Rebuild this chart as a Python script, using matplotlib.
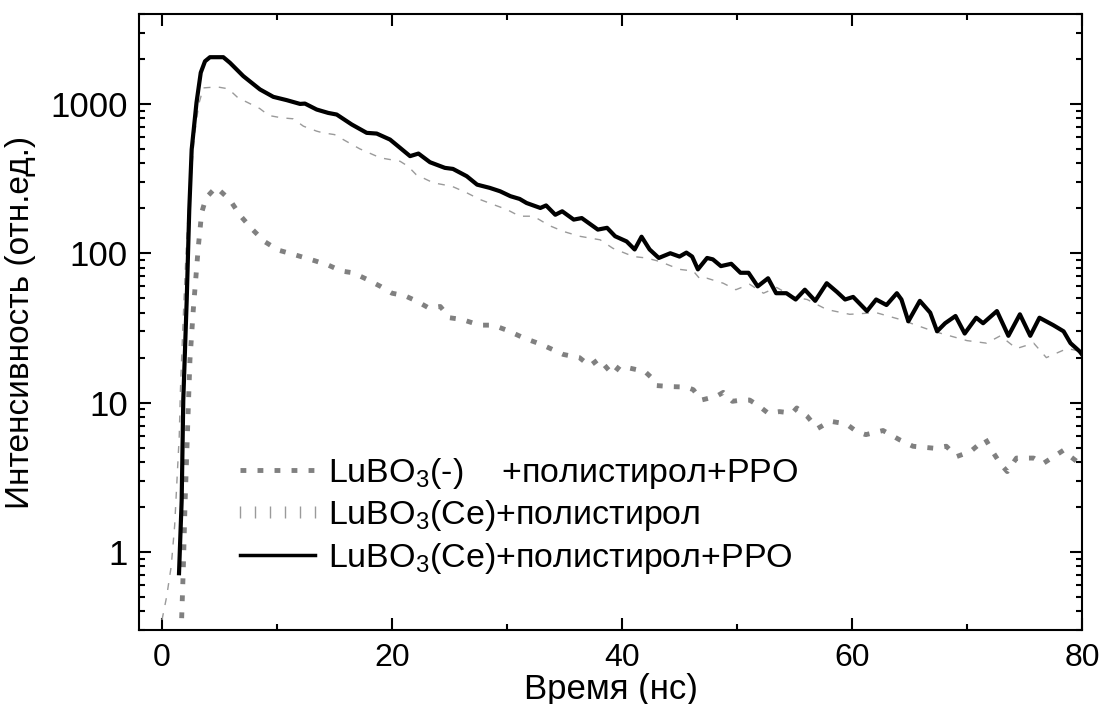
import numpy as np
import matplotlib
matplotlib.use('Agg')
import matplotlib.pyplot as plt
from matplotlib.lines import Line2D
from matplotlib.legend_handler import HandlerLine2D
from matplotlib.ticker import FixedLocator, LogLocator, NullFormatter, FuncFormatter

plt.rcParams['font.family'] = ['Liberation Sans', 'DejaVu Sans']
plt.rcParams['mathtext.fontset'] = 'custom'
plt.rcParams['mathtext.rm'] = 'Liberation Sans'
plt.rcParams['mathtext.it'] = 'Liberation Sans'
plt.rcParams['mathtext.default'] = 'regular'

# LuBO3(Ce)+полистирол+PPO (чёрная)
t_ppo = [1.48, 1.6, 1.71, 1.85, 2.15, 2.37, 2.58, 3.0, 3.37, 3.74, 4.17, 5.33, 5.91, 7.07, 8.52,
         9.68, 10.84, 12.0, 12.43, 13.45, 14.46, 15.19, 16.5, 17.8, 18.67, 19.83, 20.7, 21.57,
         22.3, 23.3, 24.6, 25.3, 26.5, 27.4, 28.5, 29.4, 30.3, 31.1, 31.7, 32.9, 33.4, 34.2,
         34.8, 35.8, 36.5, 37.9, 38.7, 39.4, 40.4, 41.1, 41.7, 42.4, 43.2, 44.2, 45.0, 45.6,
         46.1, 46.6, 47.4, 47.9, 48.6, 49.5, 50.3, 51.0, 51.8, 52.7, 53.4, 54.3, 55.1, 55.9,
         56.8, 57.8, 58.7, 59.4, 60.1, 61.3, 62.1, 63.0, 63.9, 64.3, 64.9, 65.9, 66.8, 67.4,
         68.1, 69.0, 69.8, 70.8, 71.4, 72.6, 73.6, 74.6, 75.5, 76.3, 77.5, 78.4, 79.0, 79.8, 80.0]
i_ppo = [0.72, 1.3, 2.2, 10.4, 49, 195, 495, 1020, 1620, 1930, 2055, 2055, 1885, 1535, 1250,
         1115, 1060, 1000, 1005, 917, 870, 849, 728, 640, 633, 577, 508, 447,
         465, 407, 373, 367, 328, 288, 274, 260, 241, 231, 217, 201, 209, 181,
         191, 168, 172, 144, 148, 130, 120, 106, 129, 106, 93, 100, 95, 101,
         95, 78, 93, 91, 82, 85, 74, 74, 60, 68, 54, 54, 49, 57,
         48, 63, 55, 49, 51, 41, 49, 45, 54, 49, 35, 48, 40, 30,
         34, 38, 29, 37, 34, 41, 28, 39, 28, 37, 33, 30, 25, 22, 21]

# LuBO3(Ce)+полистирол (светло-серая)
t_ps = [0.0, 0.4, 0.8, 1.1, 1.3, 1.5, 1.6, 1.8, 2.0, 2.2, 2.5, 2.8, 3.2, 3.6, 4.8, 5.77, 6.6,
        7.5, 8.5, 9.3, 10.4, 11.4, 12.3, 13.45, 14.0, 15.0, 15.9, 17.2, 19.0, 20.7, 21.4, 22.1,
        23.6, 25.2, 26.5, 27.65, 28.8, 30.0, 31.1, 32.3, 33.7, 34.9, 36.3, 38.1, 39.2, 41.0,
        42.1, 43.3, 45.0, 46.2, 46.8, 47.4, 48.8, 49.9, 51.1, 52.3, 53.45, 54.9, 56.1, 57.8,
        59.8, 62.1, 64.2, 67.1, 70.0, 71.7, 72.9, 74.3, 75.8, 76.9, 78.7, 80.0]
i_ps = [0.35, 0.5, 0.8, 1.5, 3, 6, 12, 30, 70, 150, 300, 600, 1000, 1280, 1300, 1262, 1100,
        1017, 931, 836, 807, 795, 709, 657, 640, 623, 569, 500, 435, 413, 382, 336,
        296, 281, 254, 229, 212, 196, 177, 177, 153, 140, 130, 123, 108, 95,
        93, 88, 78, 76, 67, 68, 63, 57, 62, 54, 59, 51, 49, 42,
        39, 40, 36, 30, 26, 25, 28, 23, 25, 20, 23, 22]

# LuBO3(-)+полистирол+PPO (серая пунктирная)
t_nd = [1.71, 1.85, 2.0, 2.29, 2.43, 2.72, 3.16, 3.45, 3.83, 4.7, 5.9, 6.8, 7.8, 8.9, 10.1,
        11.3, 13.3, 14.5, 15.6, 16.6, 17.8, 19.0, 20.0, 21.1, 22.1, 23.2, 24.2, 25.0, 26.1,
        27.1, 27.9, 28.8, 30.0, 31.5, 33.0, 34.9, 36.3, 37.2, 38.0, 38.7, 39.2, 39.8, 41.3,
        41.9, 42.6, 43.0, 44.2, 45.6, 46.2, 46.9, 48.2, 48.8, 49.6, 50.4, 51.1, 51.9, 52.7,
        53.7, 54.8, 55.2, 56.1, 57.0, 58.1, 59.5, 60.4, 61.2, 62.7, 64.2, 65.3, 67.1, 68.2,
        69.1, 70.3, 71.6, 72.3, 72.9, 73.5, 74.3, 75.8, 76.6, 78.4, 79.0, 79.8]
i_nd = [0.36, 0.76, 2.06, 9.4, 19.3, 41.8, 111, 187, 235, 277, 228, 179, 146, 120, 105,
        99, 89, 83, 76, 74, 67, 60, 54, 52, 48, 43, 44, 37, 36,
        34, 33, 33, 30.5, 27, 24.5, 21, 20, 17.6, 19.6, 17, 15.4, 17.6, 16.6,
        16.4, 14.6, 13.0, 12.8, 12.7, 12.2, 10.4, 11, 11.7, 10.2, 10.4, 10.4, 9.5, 8.5,
        8.7, 8.5, 9.2, 8.1, 6.7, 7.5, 7.2, 6.4, 6.1, 6.5, 5.6, 5.1, 4.95, 5.1,
        4.35, 4.7, 5.7, 4.6, 3.9, 3.45, 4.25, 4.25, 3.9, 4.8, 4.35, 3.9]

labels = ['LuBO$_3$(-)    +полистирол+PPO',
          'LuBO$_3$(Ce)+полистирол',
          'LuBO$_3$(Ce)+полистирол+PPO']

fig = plt.figure(figsize=(11.04, 7.04), dpi=100)
ax = fig.add_axes([139 / 1104, 1 - 630 / 704, (1082 - 139) / 1104, (630 - 14) / 704])

ax.plot(t_ps, i_ps, color='#9a9a9a', lw=1.0, linestyle=(0, (5, 6)), zorder=2)
ax.plot(t_nd, i_nd, color='#808080', lw=3.5, linestyle=(0, (1.2, 2.3)), zorder=3)
ax.plot(t_ppo, i_ppo, color='black', lw=3.0, zorder=4)

ax.set_yscale('log')
ax.set_xlim(-2, 80)
ax.set_ylim(0.3, 4000)

ax.xaxis.set_major_locator(FixedLocator([0, 20, 40, 60, 80]))
ax.xaxis.set_minor_locator(FixedLocator([10, 30, 50, 70]))
ax.yaxis.set_major_locator(FixedLocator([1, 10, 100, 1000]))
ax.yaxis.set_minor_locator(LogLocator(base=10, subs=np.arange(2, 10)))
ax.yaxis.set_minor_formatter(NullFormatter())
ax.yaxis.set_major_formatter(FuncFormatter(lambda v, p: '%d' % v))

for s in ax.spines.values():
    s.set_linewidth(1.5)
ax.tick_params(which='both', direction='in', top=True, right=True, width=1.5)
ax.tick_params(which='major', length=8.5)
ax.tick_params(which='minor', length=4.3)
ax.tick_params(axis='x', which='major', pad=9, labelsize=23)
ax.tick_params(axis='y', which='major', pad=8, labelsize=25)

ax.set_xlabel('Время (нс)', fontsize=25, labelpad=0)
ax.set_ylabel('Интенсивность (отн.ед.)', fontsize=24, labelpad=10)

handles = [Line2D([], [], color='#808080', lw=3.5, linestyle=(0, (1.2, 2.3))),
           Line2D([], [], color='#9a9a9a', lw=1.0, marker='|', markersize=9, linestyle='none'),
           Line2D([], [], color='black', lw=2.5)]
ax.legend(handles, labels, loc='upper left', bbox_to_anchor=(0.107, 0.283), frameon=False,
          fontsize=24.5, handlelength=2.2, handletextpad=0.4, labelspacing=0.22,
          borderpad=0, borderaxespad=0,
          handler_map={Line2D: HandlerLine2D(marker_pad=0, numpoints=6)})

fig.savefig('out.png', dpi=100)
